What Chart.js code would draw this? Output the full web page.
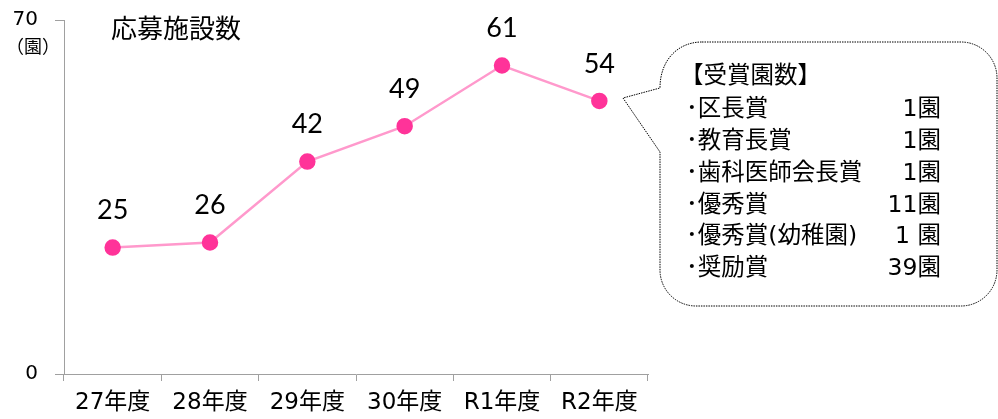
<!DOCTYPE html>
<html><head><meta charset="utf-8">
<script src="https://cdn.jsdelivr.net/npm/chart.js@4/dist/chart.umd.min.js"></script>
<style>html,body{margin:0;padding:0;background:#fff;} #wrap{width:998px;height:419px;position:relative;}</style>
</head><body><div id="wrap"><canvas id="c" width="998" height="419"></canvas></div>
<script>
const categories = ['27年度','28年度','29年度','30年度','R1年度','R2年度'];
const applicants = [25, 26, 42, 49, 61, 54];
const yTicks = [0, 70];
const chartTitle = '応募施設数';
const unitLabel = '（園）';
const awardHeader = '【受賞園数】';
const awardNames = ['･区長賞','･教育長賞','･歯科医師会長賞','･優秀賞','･優秀賞(幼稚園)','･奨励賞'];
const awardCounts = ['1園','1園','1園','11園','1 園','39園'];

const JP = '"Noto Sans CJK JP", "Noto Sans", sans-serif';
const GOTH = '"DejaVu Sans", "Noto Sans CJK JP", sans-serif';
const NUM = 'Lato, "Noto Sans", sans-serif';

const decor = {
  id: 'decor',
  afterDatasetsDraw(chart) {
    const ctx = chart.ctx;
    const meta = chart.getDatasetMeta(0);
    ctx.save();
    ctx.fillStyle = '#000';
    ctx.font = '27px ' + NUM;
    ctx.textAlign = 'center';
    ctx.textBaseline = 'middle';
    meta.data.forEach((pt, i) => {
      ctx.fillText(String(applicants[i]), pt.x, pt.y - 37);
    });
    ctx.restore();
  },
  afterDraw(chart) {
    const ctx = chart.ctx;
    ctx.save();
    ctx.fillStyle = '#000';
    ctx.font = '26px ' + JP;
    ctx.textAlign = 'left';
    ctx.textBaseline = 'middle';
    ctx.fillText(chartTitle, 111, 28);
    ctx.font = '18px ' + JP;
    ctx.textAlign = 'center';
    ctx.fillText(unitLabel, 33, 46);

    const x0 = 660, y0 = 42, x1 = 997, y1 = 306, r = 36;
    const tipX = 623, tipY = 98, pA = 88, pB = 152;
    ctx.beginPath();
    ctx.moveTo(x0 + 42, y0);
    ctx.lineTo(x1 - r, y0);
    ctx.arcTo(x1, y0, x1, y0 + r, r);
    ctx.lineTo(x1, y1 - r);
    ctx.arcTo(x1, y1, x1 - r, y1, r);
    ctx.lineTo(x0 + r, y1);
    ctx.arcTo(x0, y1, x0, y1 - r, r);
    ctx.lineTo(x0, pB);
    ctx.lineTo(tipX, tipY);
    ctx.lineTo(x0, pA);
    ctx.bezierCurveTo(x0, y0 + 18, x0 + 18, y0, x0 + 42, y0);
    ctx.closePath();
    ctx.fillStyle = '#fff';
    ctx.fill();
    ctx.setLineDash([1.5, 1]);
    ctx.lineWidth = 1;
    ctx.strokeStyle = '#000';
    ctx.stroke();
    ctx.setLineDash([]);

    ctx.fillStyle = '#000';
    ctx.font = '23.5px ' + GOTH;
    ctx.textBaseline = 'middle';
    ctx.textAlign = 'left';
    ctx.fillText(awardHeader, 680, 77);
    awardNames.forEach((n, i) => {
      const y = 110 + i * 31.8;
      ctx.textAlign = 'left';
      ctx.fillText(n, 686, y);
      ctx.textAlign = 'right';
      ctx.fillText(awardCounts[i], 941, y);
    });
    ctx.restore();
  }
};

new Chart(document.getElementById('c'), {
  type: 'line',
  data: {
    labels: categories,
    datasets: [{
      data: applicants,
      borderColor: '#FF99CC',
      borderWidth: 2.5,
      pointBackgroundColor: '#FF3399',
      pointBorderColor: '#FF3399',
      pointRadius: 7,
      pointHoverRadius: 7,
      tension: 0
    }]
  },
  options: {
    responsive: false,
    animation: false,
    devicePixelRatio: 1,
    layout: { padding: { top: 20, right: 350, bottom: 0, left: 0 } },
    plugins: { legend: { display: false }, tooltip: { enabled: false }, title: { display: false } },
    scales: {
      x: {
        offset: true,
        grid: { offset: true, drawOnChartArea: false, drawTicks: true, tickLength: 7, color: '#a0a0a0' },
        border: { color: '#a0a0a0', width: 1 },
        ticks: { color: '#000', font: { family: GOTH, size: 23 }, padding: 8, maxRotation: 0, autoSkip: false },
        afterFit(s) { s.height = 45; s.paddingLeft = 0; s.paddingRight = 0; }
      },
      y: {
        min: 0, max: 70,
        afterBuildTicks(s) { s.ticks = yTicks.map(v => ({ value: v })); },
        grid: { drawOnChartArea: false, tickLength: 9, color: '#a0a0a0' },
        border: { color: '#a0a0a0', width: 1 },
        ticks: { color: '#000', font: { family: GOTH, size: 20 }, padding: 17 },
        afterFit(s) { s.width = 64; s.paddingTop = 0; s.paddingBottom = 0; }
      }
    }
  },
  plugins: [decor]
});
</script>
</body></html>
